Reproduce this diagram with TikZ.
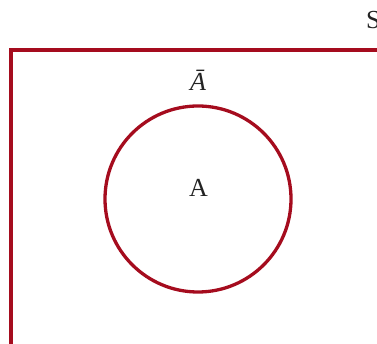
\documentclass[tikz,border=0pt]{standalone}
\usepackage{fontspec}
\setmainfont{Liberation Serif}
\definecolor{vennred}{RGB}{165,12,30}
\definecolor{txt}{RGB}{35,35,35}
\begin{document}
\begin{tikzpicture}[x=1pt,y=-1pt,
  edge/.style={draw=vennred,line width=3.3pt},
  lbl/.style={text=txt,font=\fontsize{26}{30}\selectfont,inner sep=0pt,anchor=base}]
\useasboundingbox (0,0) rectangle (377,344);
\clip (0,0) rectangle (377,344);
\draw[edge] (11,400) |- (420,50);
\node[edge,circle,minimum size=186pt,inner sep=0pt] (circ) at (198,199) {};
\node[lbl] (a) at (198.5,197) {A};
\node[lbl] (abar) at (198,91) {\textit{Ā}};
\node[lbl,anchor=base west] (s) at (366,29) {S};
\end{tikzpicture}
\end{document}
